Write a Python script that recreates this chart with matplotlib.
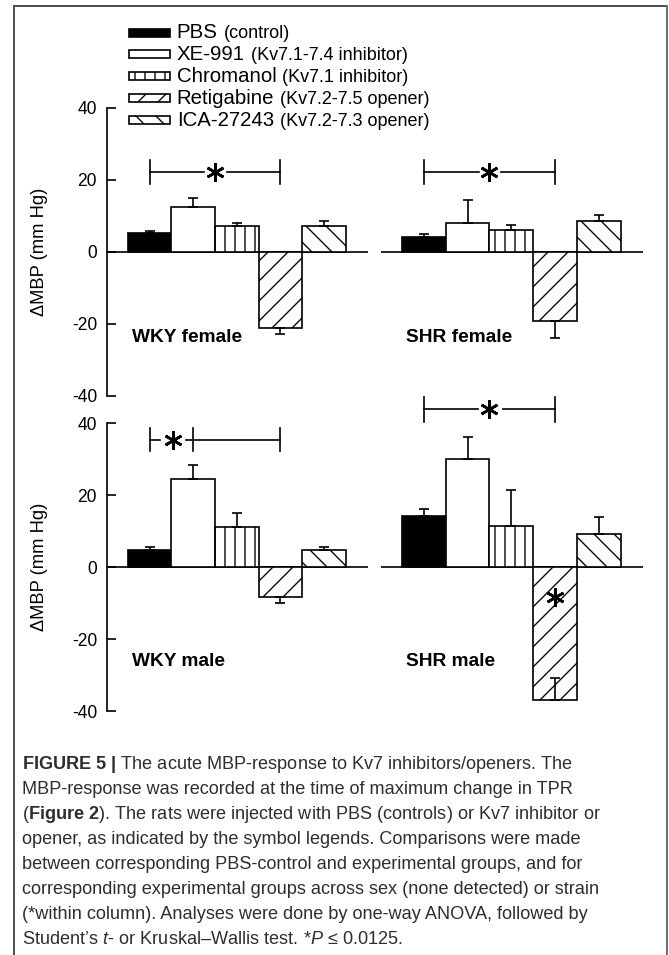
import matplotlib
matplotlib.use("Agg")
import matplotlib.pyplot as plt
from matplotlib.patches import Rectangle
from matplotlib.lines import Line2D
import numpy as np

# ---------------- data ----------------
groups = ["PBS", "XE-991", "Chromanol", "Retigabine", "ICA-27243"]
group_notes = ["(control)", "(Kv7.1-7.4 inhibitor)", "(Kv7.1 inhibitor)",
               "(Kv7.2-7.5 opener)", "(Kv7.2-7.3 opener)"]
panels = ["WKY female", "SHR female", "WKY male", "SHR male"]

wky_female = [5.3, 12.4, 7.2, -21.1, 7.2]
wky_female_err = [0.6, 2.7, 0.9, -1.8, 1.4]      # signed: + drawn upward, - downward
shr_female = [4.3, 8.0, 6.2, -19.3, 8.7]
shr_female_err = [0.8, 6.5, 1.2, -4.6, 1.5]
wky_male = [4.6, 24.4, 11.1, -8.3, 4.6]
wky_male_err = [1.0, 3.8, 3.9, -1.7, 1.0]
shr_male = [14.2, 30.0, 11.4, -37.0, 9.1]
shr_male_err = [1.9, 6.1, 10.1, 6.3, 4.7]

yticks = [-40, -20, 0, 20, 40]

# significance brackets
brk_y = [22.3, 22.3, 35.4, 43.8]
brk_lo = [18.9, 18.9, 32.1, 40.3]
brk_hi = [25.6, 25.6, 38.7, 47.2]
star_x = [1.5, 1.5, 0.53, 1.5]
brk_segments = [[(0, 1.25), (1.77, 3)], [(0, 1.25), (1.77, 3)],
                [(0, 0.23), (0.84, 3)], [(0, 1.23), (1.81, 3)]]
brk_ticks = [[0, 3], [0, 3], [0, 1, 3], [0, 3]]
inbar_star = (3, -8.3)   # SHR male, Retigabine

caption_lines = [
    r"$\mathbf{FIGURE\ 5\ |}$ The acute MBP-response to Kv7 inhibitors/openers. The",
    "MBP-response was recorded at the time of maximum change in TPR",
    r"($\mathbf{Figure\ 2}$). The rats were injected with PBS (controls) or Kv7 inhibitor or",
    "opener, as indicated by the symbol legends. Comparisons were made",
    "between corresponding PBS-control and experimental groups, and for",
    "corresponding experimental groups across sex (none detected) or strain",
    "(*within column). Analyses were done by one-way ANOVA, followed by",
    r"Student’s $\mathit{t}$- or Kruskal–Wallis test. *$\mathit{P}$ ≤ 0.0125.",
]

# ---------------- style ----------------
W, H, DPI = 669, 955, 120
plt.rcParams["font.family"] = ["Liberation Sans", "DejaVu Sans"]
plt.rcParams["mathtext.fontset"] = "custom"
plt.rcParams["mathtext.rm"] = "Liberation Sans"
plt.rcParams["mathtext.bf"] = "Liberation Sans:bold"
plt.rcParams["mathtext.it"] = "Liberation Sans:italic"
plt.rcParams["hatch.linewidth"] = 0.8
plt.rcParams["hatch.color"] = "black"

facecolors = ["black", "white", "white", "white", "white"]
hatches = [None, None, "||", "//", "\\\\"]

fig = plt.figure(figsize=(W / DPI, H / DPI), dpi=DPI)


def fx(x):
    return x / W


def fy(y):
    return 1 - y / H


def add_axes(l, r, t, b):
    return fig.add_axes([fx(l), fy(b), (r - l) / W, (b - t) / H])


boxes = [(107, 368, 108, 396), (381, 643, 108, 396),
         (107, 368, 423, 711), (381, 643, 423, 711)]
means_all = [wky_female, shr_female, wky_male, shr_male]
errs_all = [wky_female_err, shr_female_err, wky_male_err, shr_male_err]

x = np.arange(len(groups))
for i, (box, means, errs) in enumerate(zip(boxes, means_all, errs_all)):
    ax = add_axes(*box)
    ax.set_xlim(-0.98, 5.01)
    ax.set_ylim(-40, 40)
    ax.patch.set_alpha(0)
    for s in ["top", "right", "bottom"]:
        ax.spines[s].set_visible(False)
    ax.set_xticks([])
    ax.axhline(0, color="black", lw=1.0, zorder=1)
    for j in range(len(groups)):
        ax.bar(x[j], means[j], width=1.0, color=facecolors[j], edgecolor="black",
               hatch=hatches[j], linewidth=1.0, zorder=2)
    errs = np.array(errs)
    up = np.where(errs > 0, errs, 0)
    dn = np.where(errs < 0, -errs, 0)
    ax.errorbar(x, means, yerr=[dn, up], fmt="none", ecolor="black",
                elinewidth=1.0, capsize=3, capthick=1.0, zorder=3)
    if i % 2 == 0:
        ax.spines["left"].set_linewidth(1.0)
        ax.set_yticks(yticks)
        ax.set_yticklabels([str(t) for t in yticks])
        ax.tick_params(axis="y", direction="in", length=5.5, width=1.0,
                       labelsize=10.5, pad=6)
        ax.set_ylabel("ΔMBP (mm Hg)", fontsize=11)
        ax.yaxis.set_label_coords(-0.226, 0.5)
    else:
        ax.spines["left"].set_visible(False)
        ax.set_yticks([])
    ax.text(-0.4, -23.7 if i < 2 else -26.2, panels[i], fontsize=11.5,
            fontweight="bold", ha="left", va="center")
    for a, b in brk_segments[i]:
        ax.plot([a, b], [brk_y[i], brk_y[i]], color="black", lw=1.0,
                clip_on=False, zorder=4)
    for tx in brk_ticks[i]:
        ax.plot([tx, tx], [brk_lo[i], brk_hi[i]], color="black", lw=1.0,
                clip_on=False, zorder=4)
    ax.plot([star_x[i]], [brk_y[i]], marker=(6, 2, 0), ms=11, mew=1.6,
            color="black", clip_on=False, zorder=4)
    if i == 3:
        ax.plot([inbar_star[0]], [inbar_star[1]], marker=(6, 2, 0), ms=11,
                mew=1.6, color="black", zorder=4)

# ---------------- legend ----------------
renderer = fig.canvas.get_renderer()
row_y = [32.5, 54.0, 76.0, 98.0, 119.5]
for j in range(len(groups)):
    y0 = row_y[j]
    rect = Rectangle((fx(129), fy(y0 + 4)), 41 / W, 8 / H,
                     transform=fig.transFigure, facecolor=facecolors[j],
                     edgecolor="black", hatch=hatches[j], linewidth=1.0)
    fig.add_artist(rect)
    t = fig.text(fx(176.7), fy(y0 + 6), groups[j], fontsize=12.2,
                 ha="left", va="baseline")
    bb = t.get_window_extent(renderer)
    fig.text(bb.x1 / W + 6 / W, fy(y0 + 6), group_notes[j], fontsize=10.8,
             ha="left", va="baseline")

# ---------------- caption ----------------
cap_base = [769, 794, 819, 844, 869, 894, 919, 944]
for ln, yb in zip(caption_lines, cap_base):
    fig.text(fx(22), fy(yb), ln, fontsize=10.9, color="#2e2e2e",
             ha="left", va="baseline")

# ---------------- frame ----------------
fc = "#505050"
fig.add_artist(Line2D([fx(14), fx(667)], [fy(6), fy(6)], color=fc, lw=1.2,
                      transform=fig.transFigure))
fig.add_artist(Line2D([fx(14), fx(14)], [fy(6), fy(955)], color=fc, lw=1.2,
                      transform=fig.transFigure))
fig.add_artist(Line2D([fx(667), fx(667)], [fy(6), fy(955)], color="#707070",
                      lw=1.2, transform=fig.transFigure))

fig.savefig("out.png", dpi=DPI)
